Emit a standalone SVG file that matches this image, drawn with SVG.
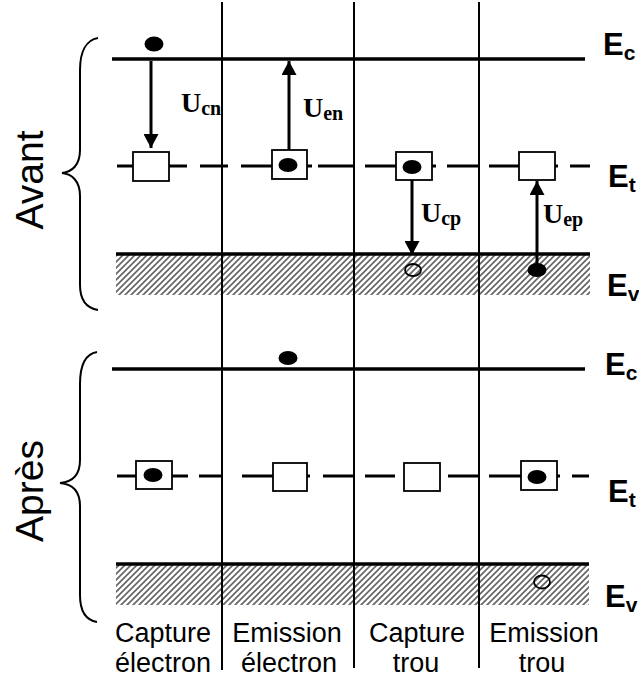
<svg xmlns="http://www.w3.org/2000/svg" width="639" height="683" viewBox="0 0 639 683">
<style>
.lvl{stroke:#000;stroke-width:3.5;fill:none}
.dash{stroke:#000;stroke-width:3;fill:none}
.col{stroke:#000;stroke-width:2;fill:none}
.box{fill:#fff;stroke:#000;stroke-width:1.8}
.dot{fill:#000}
.hole{fill:none;stroke:#000;stroke-width:1.8}
.arr{stroke:#000;stroke-width:3;fill:none}
.brace{stroke:#000;stroke-width:2;fill:none}
.E{font-family:"Liberation Sans",Arial,sans-serif;font-weight:bold;font-size:31px;fill:#000}
.Es{font-size:21px}
.U{font-family:"Liberation Serif","Times New Roman",serif;font-weight:bold;font-size:28px;fill:#000}
.Us{font-size:20px}
.lab{font-family:"Liberation Sans",Arial,sans-serif;font-size:27px;fill:#000;text-anchor:middle}
.side{font-family:"Liberation Sans",Arial,sans-serif;font-size:39px;fill:#000;text-anchor:middle}
</style>
<defs>
<pattern id="hatch" patternUnits="userSpaceOnUse" width="6" height="6">
<path d="M-1,1 L1,-1 M0,6 L6,0 M5,7 L7,5" stroke="#666" stroke-width="1.7"/>
</pattern>
<marker id="ah" markerWidth="15" markerHeight="15" refX="14" refY="7.5" orient="auto" markerUnits="userSpaceOnUse">
<path d="M0,0 L14,7.5 L0,15 Z" fill="#000"/>
</marker>
</defs>

<!-- hatched valence bands -->
<g id="bands">
<rect x="116" y="254" width="474" height="41" fill="url(#hatch)"/>
<rect x="116" y="564" width="473" height="41" fill="url(#hatch)"/>
</g>

<!-- column separators -->
<g id="columns">
<line class="col" x1="222" y1="2" x2="222" y2="670"/>
<line class="col" x1="354" y1="2" x2="354" y2="668"/>
<line class="col" x1="479" y1="2" x2="479" y2="668"/>
</g>

<!-- energy levels -->
<g id="levels-avant">
<line class="lvl" x1="112" y1="59" x2="585" y2="59"/>
<line class="lvl" x1="116" y1="254" x2="590" y2="254"/>
<path class="dash" d="M117,166 H187 M200,166 H228 M241,166 H312 M318,166 H353 M365,166 H436 M447,166 H478 M489,166 H558 M570,166 H590"/>
</g>
<g id="levels-apres">
<line class="lvl" x1="112" y1="369" x2="585" y2="369"/>
<line class="lvl" x1="116" y1="564" x2="589" y2="564"/>
<path class="dash" d="M117,476 H188 M199,476 H222 M242,476 H310 M323,476 H353 M365,476 H395 M404,476 H440 M448,476 H478 M489,476 H560 M572,476 H589"/>
</g>

<!-- connectors -->
<g id="connectors">
<line class="arr" x1="151" y1="61" x2="151" y2="148" marker-end="url(#ah)"/>
<line class="arr" x1="289" y1="150" x2="289" y2="61" marker-end="url(#ah)"/>
<line class="arr" x1="412" y1="180" x2="412" y2="255" marker-end="url(#ah)"/>
<line class="arr" x1="537" y1="266" x2="537" y2="181" marker-end="url(#ah)"/>
</g>

<!-- Avant: traps and carriers -->
<g id="trap-a1"><rect class="box" x="133" y="152" width="36" height="29"/></g>
<g id="trap-a2"><rect class="box" x="272" y="150" width="35" height="29"/><ellipse class="dot" cx="288" cy="165" rx="9.5" ry="7"/></g>
<g id="trap-a3"><rect class="box" x="396" y="152" width="36" height="28"/><ellipse class="dot" cx="412" cy="167" rx="9.5" ry="7"/></g>
<g id="trap-a4"><rect class="box" x="519" y="152" width="36" height="28"/></g>
<g id="electron-a1"><ellipse class="dot" cx="154" cy="44" rx="9.5" ry="7.5"/></g>
<g id="hole-a3"><ellipse class="hole" cx="413" cy="270" rx="8" ry="6"/></g>
<g id="electron-a4"><ellipse class="dot" cx="537" cy="270" rx="9.5" ry="7"/></g>

<!-- Après: traps and carriers -->
<g id="trap-b1"><rect class="box" x="136" y="461" width="36" height="28"/><ellipse class="dot" cx="153" cy="475" rx="9.5" ry="7"/></g>
<g id="trap-b2"><rect class="box" x="273" y="463" width="34" height="28"/></g>
<g id="trap-b3"><rect class="box" x="404" y="463" width="36" height="28"/></g>
<g id="trap-b4"><rect class="box" x="521" y="461" width="36" height="29"/><ellipse class="dot" cx="537" cy="477" rx="9.5" ry="7"/></g>
<g id="electron-b2"><ellipse class="dot" cx="288" cy="358" rx="9.5" ry="7"/></g>
<g id="hole-b4"><ellipse class="hole" cx="542" cy="582" rx="8" ry="6.5"/></g>

<!-- rate labels -->
<g id="rate-labels">
<text class="U" x="181" y="112">U<tspan class="Us" dy="3">cn</tspan></text>
<text class="U" x="303" y="117">U<tspan class="Us" dy="3">en</tspan></text>
<text class="U" x="421" y="222">U<tspan class="Us" dy="3">cp</tspan></text>
<text class="U" x="543" y="223">U<tspan class="Us" dy="3">ep</tspan></text>
</g>

<!-- level labels -->
<g id="level-labels">
<text class="E" x="603" y="55">E<tspan class="Es" dy="5">c</tspan></text>
<text class="E" x="608" y="187">E<tspan class="Es" dy="5">t</tspan></text>
<text class="E" x="607" y="296">E<tspan class="Es" dy="5">v</tspan></text>
<text class="E" x="605" y="375">E<tspan class="Es" dy="5">c</tspan></text>
<text class="E" x="608" y="502">E<tspan class="Es" dy="5">t</tspan></text>
<text class="E" x="605" y="607">E<tspan class="Es" dy="5">v</tspan></text>
</g>

<!-- braces and side labels -->
<g id="avant">
<path class="brace" d="M98,38 C86,40 80,52 80,70 L80,150 C80,165 72,172 62,173 C72,174 80,181 80,196 L80,285 C80,300 86,308 98,310"/>
<text class="side" transform="translate(43,180) rotate(-90)">Avant</text>
</g>
<g id="apres">
<path class="brace" d="M97,352 C85,354 80,366 80,384 L80,460 C80,475 72,482 60,483 C72,484 80,491 80,506 L80,595 C80,610 85,620 97,622"/>
<text class="side" transform="translate(43,491) rotate(-90)">Après</text>
</g>

<!-- column captions -->
<g id="captions">
<text class="lab" x="163" y="642">Capture</text>
<text class="lab" x="163" y="672">électron</text>
<text class="lab" x="287" y="642">Emission</text>
<text class="lab" x="289" y="672">électron</text>
<text class="lab" x="417" y="642">Capture</text>
<text class="lab" x="416" y="672">trou</text>
<text class="lab" x="544" y="642">Emission</text>
<text class="lab" x="542" y="672">trou</text>
</g>
</svg>
